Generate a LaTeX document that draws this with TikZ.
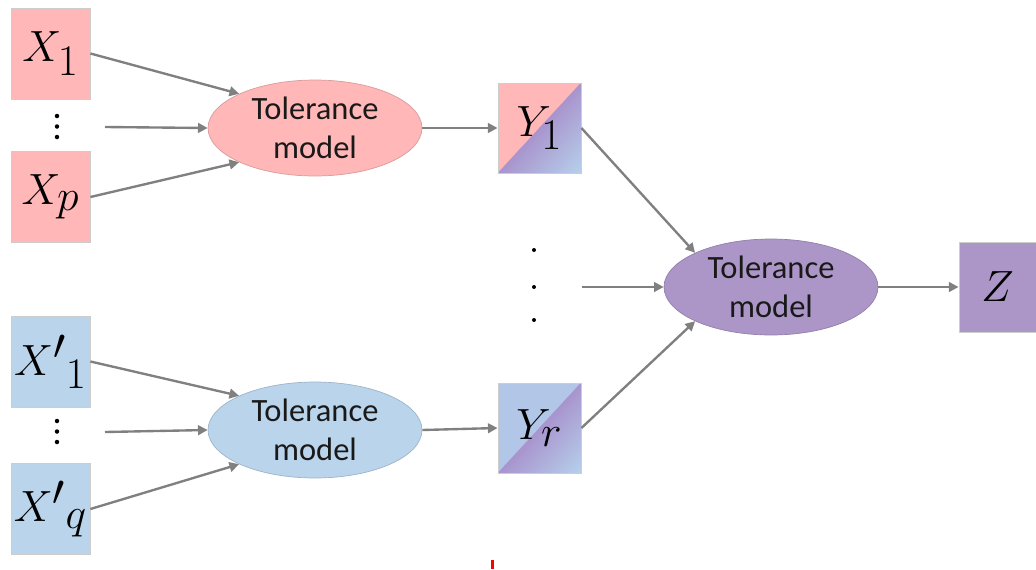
\documentclass[tikz,border=0pt]{standalone}
\usepackage{fontspec}
\newfontfamily\calibri{Carlito}
\usetikzlibrary{arrows.meta,shapes.geometric}
\definecolor{xpink}{RGB}{255,183,183}
\definecolor{xblue}{RGB}{186,212,236}
\definecolor{zpurple}{RGB}{172,150,200}
\definecolor{ypurple}{RGB}{168,148,205}
\definecolor{yblue}{RGB}{182,208,236}
\definecolor{yrblue}{RGB}{178,198,232}
\definecolor{arr}{RGB}{128,128,128}
\definecolor{edge}{RGB}{205,205,205}
\begin{document}
\begin{tikzpicture}[x=0.02cm,y=-0.02cm,
  var/.style={rectangle, draw=edge, line width=0.5pt, minimum width=1.58cm, minimum height=1.82cm, inner sep=0pt, font=\fontsize{34}{40}\selectfont},
  tol/.style={ellipse, minimum width=4.28cm, minimum height=1.92cm, inner sep=0pt, align=center, font=\calibri\fontsize{18.5}{22}\selectfont, text=black!90, line width=0.4pt},
  arrow/.style={draw=arr, line width=1.35pt, -{Triangle[length=5.5pt,width=5.5pt]}},
  dotmark/.style={circle, fill=black, inner sep=0pt, minimum size=0.09cm}]
\useasboundingbox (0,0) rectangle (1036,569);
% input boxes
\node[var, fill=xpink] (X1) at (50.5,53.5) {$X_1$};
\node[var, fill=xpink] (Xp) at (50.5,197) {$X_p$};
\node[var, fill=xblue] (Xa1) at (50.5,361.5) {${X'}_1$};
\node[var, fill=xblue] (Xaq) at (50.5,509) {${X'}_q$};
% dots
\foreach \yy in {116,126.5,137} \node[dotmark] at (57,\yy) {};
\foreach \yy in {421,431.5,442} \node[dotmark] at (57,\yy) {};
\foreach \yy in {250,287,320} \node[dotmark, minimum size=0.08cm] at (534,\yy) {};
% models
\node[tol, fill=xpink, draw=xpink!85!black] (T1) at (315,128) {Tolerance\\model};
\node[tol, fill=xblue, draw=xblue!85!black] (T2) at (315,430) {Tolerance\\model};
\node[tol, fill=zpurple, draw=zpurple!85!black] (T3) at (771,287) {Tolerance\\model};
% gradient boxes
\begin{scope}[shift={(498,173)}, x=1.66cm, y=1.8cm]
  \fill[xpink] (0,0) rectangle (1,1);
  \foreach \i in {0,...,19}{
    \pgfmathsetmacro\ta{\i/20}\pgfmathsetmacro\tb{(\i+1)/20}\pgfmathsetmacro\cc{100-5*\i-2.5}
    \fill[ypurple!\cc!yblue, draw=ypurple!\cc!yblue, line width=0.2pt] (\ta,0) -- (\tb,0) -- (1,1-\tb) -- (1,1-\ta) -- cycle;}
\end{scope}
\begin{scope}[shift={(498,473)}, x=1.66cm, y=1.8cm]
  \fill[yrblue] (0,0) rectangle (1,1);
  \foreach \i in {0,...,19}{
    \pgfmathsetmacro\ta{\i/20}\pgfmathsetmacro\tb{(\i+1)/20}\pgfmathsetmacro\cc{100-5*\i-2.5}
    \fill[ypurple!\cc!yblue, draw=ypurple!\cc!yblue, line width=0.2pt] (\ta,0) -- (\tb,0) -- (1,1-\tb) -- (1,1-\ta) -- cycle;}
\end{scope}
\node[var, minimum width=1.66cm, minimum height=1.8cm] (Y1) at (539.5,128) {$Y_1$};
\node[var, minimum width=1.66cm, minimum height=1.8cm] (Yr) at (539.5,428) {$Y_r$};
\node[var, fill=zpurple, minimum width=1.54cm, minimum height=1.8cm] (Z) at (997.5,287) {$Z$};
% connector free ends
\coordinate (d1) at (105,127);
\coordinate (d2) at (105,432);
\coordinate (d3) at (582,287);
% arrows
\draw[arrow] (X1.east) -- (T1.north west);
\draw[arrow] (d1) -- (T1.west);
\draw[arrow] (Xp.east) -- (T1.south west);
\draw[arrow] (Xa1.east) -- (T2.north west);
\draw[arrow] (d2) -- (T2.west);
\draw[arrow] (Xaq.east) -- (T2.south west);
\draw[arrow] (T1.east) -- (Y1.west);
\draw[arrow] (T2.east) -- (Yr.west);
\draw[arrow] (Y1.east) -- (T3.north west);
\draw[arrow] (d3) -- (T3.west);
\draw[arrow] (Yr.east) -- (T3.south west);
\draw[arrow] (T3.east) -- (Z.west);
% small red mark
\fill[red] (491,560) rectangle (494,569);
\end{tikzpicture}
\end{document}
